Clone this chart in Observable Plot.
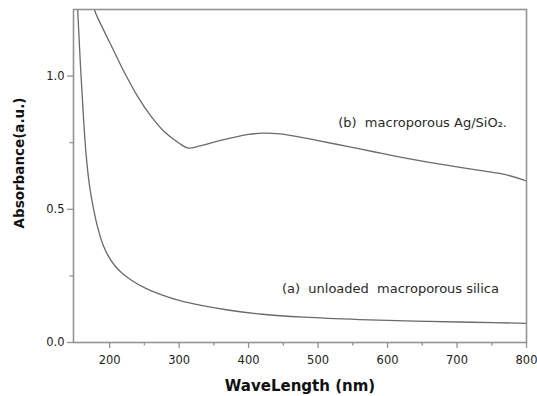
<!DOCTYPE html>
<html>
<head>
<meta charset="utf-8">
<script src="https://cdn.jsdelivr.net/npm/d3@7"></script>
<script src="https://cdn.jsdelivr.net/npm/@observablehq/plot@0.6"></script>
<style>
  html, body { margin: 0; padding: 0; background: #fff; }
</style>
</head>
<body>
<div id="chart"></div>
<script>
// Series (a): unloaded macroporous silica
const wlA  = [150, 154, 158, 162, 166, 171, 177, 183, 190, 198, 207, 218, 232, 250, 275, 300, 330, 370, 420, 480, 560, 640, 720, 800];
const absA = [1.45, 1.25, 1.04, 0.86, 0.71, 0.59, 0.50, 0.43, 0.37, 0.325, 0.29, 0.26, 0.233, 0.206, 0.179, 0.158, 0.140, 0.122, 0.106, 0.095, 0.086, 0.080, 0.076, 0.072];

// Series (b): macroporous Ag/SiO2
const wlB  = [174, 178, 190, 205, 220, 240, 260, 280, 300, 313, 330, 350, 375, 400, 420, 445, 470, 500, 540, 580, 620, 660, 700, 740, 770, 800];
const absB = [1.31, 1.25, 1.18, 1.10, 1.02, 0.925, 0.848, 0.788, 0.748, 0.730, 0.738, 0.752, 0.768, 0.781, 0.786, 0.783, 0.773, 0.758, 0.737, 0.716, 0.695, 0.676, 0.659, 0.643, 0.630, 0.606];

// Ticks
const xMajor = [200, 300, 400, 500, 600, 700, 800];
const xMinor = [250, 350, 450, 550, 650, 750];
const yMajor = [0, 0.5, 1.0];
const yMinor = [0.25, 0.75];

// Annotations (text, anchor wavelength, anchor absorbance)
const labelText = ["(a)  unloaded  macroporous silica", "(b)  macroporous Ag/SiO\u2082."];
const labelWl   = [448, 529];
const labelAbs  = [0.202, 0.826];

const seriesA = wlA.map((w, i) => ({wl: w, abs: absA[i]}));
const seriesB = wlB.map((w, i) => ({wl: w, abs: absB[i]}));
const labels = labelText.map((t, i) => ({text: t, wl: labelWl[i], abs: labelAbs[i]}));

const axisColor = "#949494";
const lineColor = "#6a6a6a";

const chart = Plot.plot({
  width: 537,
  height: 396,
  marginLeft: 73,
  marginRight: 11,
  marginTop: 9,
  marginBottom: 54,
  style: {fontFamily: "DejaVu Sans", fontSize: "11.5px", color: "#222", background: "#fff"},
  x: {domain: [148, 800]},
  y: {domain: [0, 1.25]},
  marks: [
    Plot.axisX(xMajor, {tickSize: 6, tickPadding: 7, stroke: axisColor, strokeWidth: 1.3, label: null, tickFormat: d3.format("d")}),
    Plot.axisX(xMinor, {tickSize: 3.5, stroke: axisColor, strokeWidth: 1.3, label: null, tickFormat: () => ""}),
    Plot.axisY(yMajor, {tickSize: 6, tickPadding: 3, stroke: axisColor, strokeWidth: 1.3, label: null, tickFormat: d3.format(".1f")}),
    Plot.axisY(yMinor, {tickSize: 3.5, stroke: axisColor, strokeWidth: 1.3, label: null, tickFormat: () => ""}),
    Plot.line(seriesA, {x: "wl", y: "abs", stroke: lineColor, strokeWidth: 1.3, curve: "catmull-rom", clip: true}),
    Plot.line(seriesB, {x: "wl", y: "abs", stroke: lineColor, strokeWidth: 1.3, curve: "catmull-rom", clip: true}),
    Plot.frame({stroke: axisColor, strokeWidth: 1.6}),
    Plot.text(labels, {x: "wl", y: "abs", text: "text", textAnchor: "start", lineAnchor: "middle", fontSize: 13, fill: "#2a2a2a"}),
    Plot.text(["WaveLength (nm)"], {frameAnchor: "bottom", dy: 44, textAnchor: "middle", lineAnchor: "middle", fontSize: 15, fontWeight: "bold", fill: "#111"}),
    Plot.text(["Absorbance(a.u.)"], {frameAnchor: "left", dx: -54, dy: -13, rotate: -90, textAnchor: "middle", lineAnchor: "middle", fontSize: 13.5, fontWeight: "bold", fill: "#111"})
  ]
});
document.getElementById("chart").appendChild(chart);
</script>
</body>
</html>
